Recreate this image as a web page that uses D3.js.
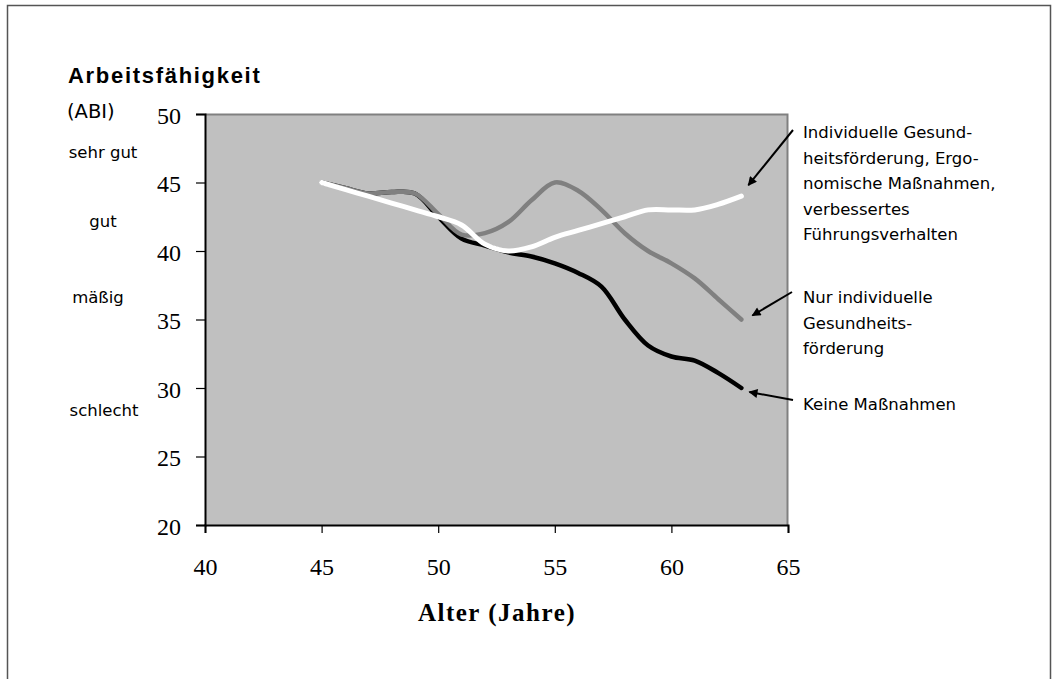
<!DOCTYPE html>
<html>
<head>
<meta charset="utf-8">
<script src="https://cdn.jsdelivr.net/npm/d3@7"></script>
<style>
  html, body { margin: 0; padding: 0; background: #fff; }
  svg { display: block; }
</style>
</head>
<body>
<svg id="chart" width="1058" height="679"></svg>
<script>
// ---- data ----
const ages = [45, 46, 47, 48, 49, 50, 51, 52, 53, 54, 55, 56, 57, 58, 59, 60, 61, 62, 63];
const keineMassnahmen = [45, 44.6, 44.2, 44.3, 44.2, 42.5, 40.9, 40.4, 39.9, 39.6, 39.1, 38.4, 37.4, 35.0, 33.1, 32.3, 32.0, 31.1, 30.0];
const nurIndividuell = [45, 44.6, 44.2, 44.3, 44.2, 42.7, 41.2, 41.3, 42.1, 43.7, 45.0, 44.4, 43.0, 41.3, 40.0, 39.1, 38.0, 36.5, 35.0];
const kombiniert = [45, 44.5, 44.0, 43.5, 43.0, 42.5, 41.9, 40.5, 40.0, 40.3, 41.0, 41.5, 42.0, 42.5, 43.0, 43.0, 43.0, 43.4, 44.0];
const xTicks = [40, 45, 50, 55, 60, 65];
const yTicks = [20, 25, 30, 35, 40, 45, 50];
const ratingLabels = ["sehr gut", "gut", "mäßig", "schlecht"];
const seriesLabels = [
  ["Individuelle Gesund-", "heitsförderung, Ergo-", "nomische Maßnahmen,", "verbessertes", "Führungsverhalten"],
  ["Nur individuelle", "Gesundheits-", "förderung"],
  ["Keine Maßnahmen"]
];

// ---- layout ----
const svg = d3.select("#chart");
const plot = { left: 205, top: 114, right: 788, bottom: 525 };
const x = d3.scaleLinear().domain([40, 65]).range([plot.left, plot.right]);
const y = d3.scaleLinear().domain([20, 50]).range([plot.bottom, plot.top]);

// outer frame
svg.append("path")
  .attr("d", "M7.5,690 L7.5,5.5 L1050.5,5.5 L1050.5,690")
  .attr("fill", "none").attr("stroke", "#555").attr("stroke-width", 1.5);

// plot background
svg.append("rect")
  .attr("x", plot.left).attr("y", plot.top)
  .attr("width", plot.right - plot.left).attr("height", plot.bottom - plot.top)
  .attr("fill", "#c0c0c0");
// top & right gray border
svg.append("path")
  .attr("d", `M${plot.left},${plot.top + 0.5} L${plot.right - 0.5},${plot.top + 0.5} L${plot.right - 0.5},${plot.bottom}`)
  .attr("fill", "none").attr("stroke", "#808080").attr("stroke-width", 2);

// axes
const yAxis = d3.axisLeft(y).tickValues(yTicks).tickSize(9).tickFormat(d3.format("d"));
const gy = svg.append("g").attr("transform", `translate(${plot.left},0)`).call(yAxis);
gy.select(".domain").attr("stroke", "#000").attr("stroke-width", 2);
gy.selectAll(".tick line").attr("stroke", "#000").attr("stroke-width", 1.2);
gy.selectAll(".tick text")
  .attr("x", -24).attr("dy", "0.38em")
  .style("font-family", "'Liberation Serif', 'Times New Roman', serif")
  .style("font-size", "24px").attr("fill", "#000");

const xAxis = d3.axisBottom(x).tickValues(xTicks).tickSize(8).tickFormat(d3.format("d"));
const gx = svg.append("g").attr("transform", `translate(0,${plot.bottom})`).call(xAxis);
gx.select(".domain").attr("stroke", "#000").attr("stroke-width", 2);
gx.selectAll(".tick line").attr("stroke", "#000").attr("stroke-width", 1.2);
gx.selectAll(".tick text")
  .attr("y", 42).attr("dy", "0.35em")
  .style("font-family", "'Liberation Serif', 'Times New Roman', serif")
  .style("font-size", "24px").attr("fill", "#000");

// lines
const line = d3.line()
  .x((d, i) => x(ages[i]))
  .y(d => y(d))
  .curve(d3.curveCatmullRom.alpha(0.5));

const series = [
  { values: keineMassnahmen, color: "#000000", width: 4.5 },
  { values: nurIndividuell, color: "#808080", width: 4.5 },
  { values: kombiniert, color: "#ffffff", width: 5 }
];
svg.append("g").selectAll("path").data(series).join("path")
  .attr("d", d => line(d.values))
  .attr("fill", "none")
  .attr("stroke", d => d.color)
  .attr("stroke-width", d => d.width)
  .attr("stroke-linecap", "round")
  .attr("stroke-linejoin", "round");

// title texts
svg.append("text")
  .attr("x", 68).attr("y", 83)
  .style("font-family", "'Liberation Sans', Arial, sans-serif")
  .style("font-weight", "bold").style("font-size", "22px")
  .style("letter-spacing", "1.7px")
  .text("Arbeitsfähigkeit");
svg.append("text")
  .attr("x", 67).attr("y", 118)
  .style("font-family", "'DejaVu Sans', Verdana, sans-serif")
  .style("font-size", "19.5px")
  .text("(ABI)");

const ratingPos = [[103, 158], [103, 227], [98, 303], [104, 416]];
svg.append("g").selectAll("text").data(ratingLabels).join("text")
  .attr("x", (d, i) => ratingPos[i][0]).attr("y", (d, i) => ratingPos[i][1])
  .attr("text-anchor", "middle")
  .style("font-family", "'DejaVu Sans', Verdana, sans-serif")
  .style("font-size", "16.5px")
  .text(d => d);

// x axis title
svg.append("text")
  .attr("x", 497).attr("y", 621)
  .attr("text-anchor", "middle")
  .style("font-family", "'Liberation Serif', 'Times New Roman', serif")
  .style("font-weight", "bold").style("font-size", "25px")
  .style("letter-spacing", "1.5px")
  .text("Alter (Jahre)");

// annotations
const labelTop = [138, 303, 410];
const lineGap = 25.5;
seriesLabels.forEach((lines, k) => {
  const t = svg.append("text")
    .attr("x", 803).attr("y", labelTop[k])
    .style("font-family", "'DejaVu Sans', Verdana, sans-serif")
    .style("font-size", "16.5px");
  lines.forEach((s, j) => {
    t.append("tspan").attr("x", 803).attr("y", labelTop[k] + j * lineGap).text(s);
  });
});

// arrows
svg.append("defs").append("marker")
  .attr("id", "arrow").attr("viewBox", "0 0 10 10")
  .attr("refX", 9).attr("refY", 5)
  .attr("markerWidth", 12).attr("markerHeight", 9)
  .attr("markerUnits", "userSpaceOnUse")
  .attr("orient", "auto")
  .append("path").attr("d", "M0,0 L10,5 L0,10 Z").attr("fill", "#000");

const ends = [kombiniert, nurIndividuell, keineMassnahmen].map(v => v[v.length - 1]);
const arrowStarts = [[793, 130], [792, 292], [793, 400]];
const arrowOffsets = [[7, -11], [11, -4], [8, 4]];
svg.append("g").selectAll("line").data(ends).join("line")
  .attr("x1", (d, i) => arrowStarts[i][0]).attr("y1", (d, i) => arrowStarts[i][1])
  .attr("x2", (d, i) => x(ages[ages.length - 1]) + arrowOffsets[i][0])
  .attr("y2", (d, i) => y(d) + arrowOffsets[i][1])
  .attr("stroke", "#000").attr("stroke-width", 2)
  .attr("marker-end", "url(#arrow)");
</script>
</body>
</html>
